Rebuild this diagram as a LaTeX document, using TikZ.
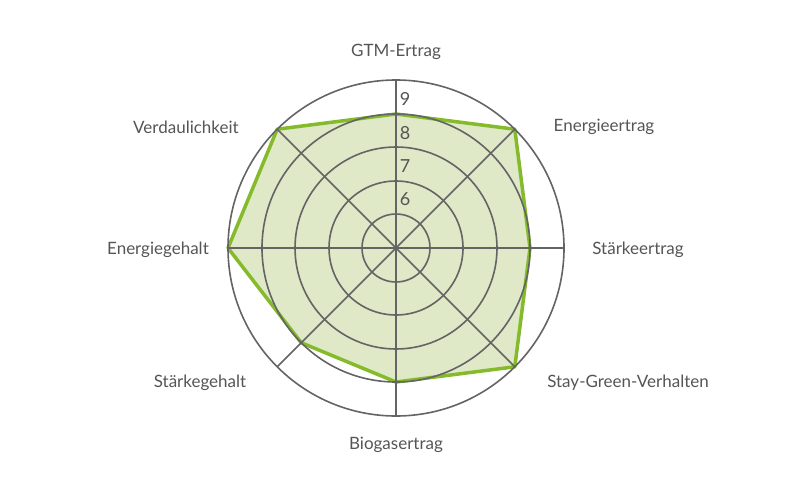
\documentclass[tikz,border=0pt]{standalone}
\usepackage{fontspec}
\setmainfont{Lato}
\usetikzlibrary{calc}
\definecolor{gridgray}{RGB}{100,100,100}
\definecolor{textgray}{RGB}{85,85,85}
\definecolor{sortgreen}{RGB}{133,186,43}
\definecolor{sortfill}{RGB}{223,232,199}
\tikzset{every picture/.style={line width=0.75pt}}
\tikzset{
  ring/.style={draw=gridgray, line width=1.6pt},
  axis/.style={draw=gridgray, line width=1.6pt},
  lbl/.style={text=textgray, font=\fontsize{17}{19}\selectfont, inner sep=0pt},
  scl/.style={text=textgray, font=\fontsize{18}{20}\selectfont, inner sep=0pt}
}
\begin{document}
\begin{tikzpicture}[x=1pt,y=1pt,yscale=-1]
  \useasboundingbox (0,0) rectangle (791,500);
  \coordinate (m) at (396,248);
  % profile
  \filldraw[fill=sortfill, draw=sortgreen, line width=3.5pt, line join=round]
    ($(m)+(-90:134)$) -- ($(m)+(-45:168)$) -- ($(m)+(0:134)$) -- ($(m)+(45:168)$)
    -- ($(m)+(90:134)$) -- ($(m)+(135:134)$) -- ($(m)+(180:168)$) -- ($(m)+(-135:168)$) -- cycle;
  % rings
  \foreach \r in {34,67,101,134,168}
    \draw[ring] (m) circle (\r);
  % axes
  \foreach \a in {0,45,...,315}
    \draw[axis] (m) -- ($(m)+(\a:168)$);
  % scale
  \node[scl] (s6) at (405,199) {6};
  \node[scl] (s7) at (405,166) {7};
  \node[scl] (s8) at (405,133) {8};
  \node[scl] (s9) at (405,99) {9};
  % labels
  \node[lbl] (gtm) at (396,52) {GTM-Ertrag};
  \node[lbl] (eer) at (604,127) {Energieertrag};
  \node[lbl] (ster) at (638,250) {Stärkeertrag};
  \node[lbl] (stay) at (628,383) {Stay-Green-Verhalten};
  \node[lbl] (bio) at (396,445) {Biogasertrag};
  \node[lbl] (stg) at (200,383) {Stärkegehalt};
  \node[lbl] (eg) at (158,250) {Energiegehalt};
  \node[lbl] (verd) at (186,127) {Verdaulichkeit};
\end{tikzpicture}
\end{document}
